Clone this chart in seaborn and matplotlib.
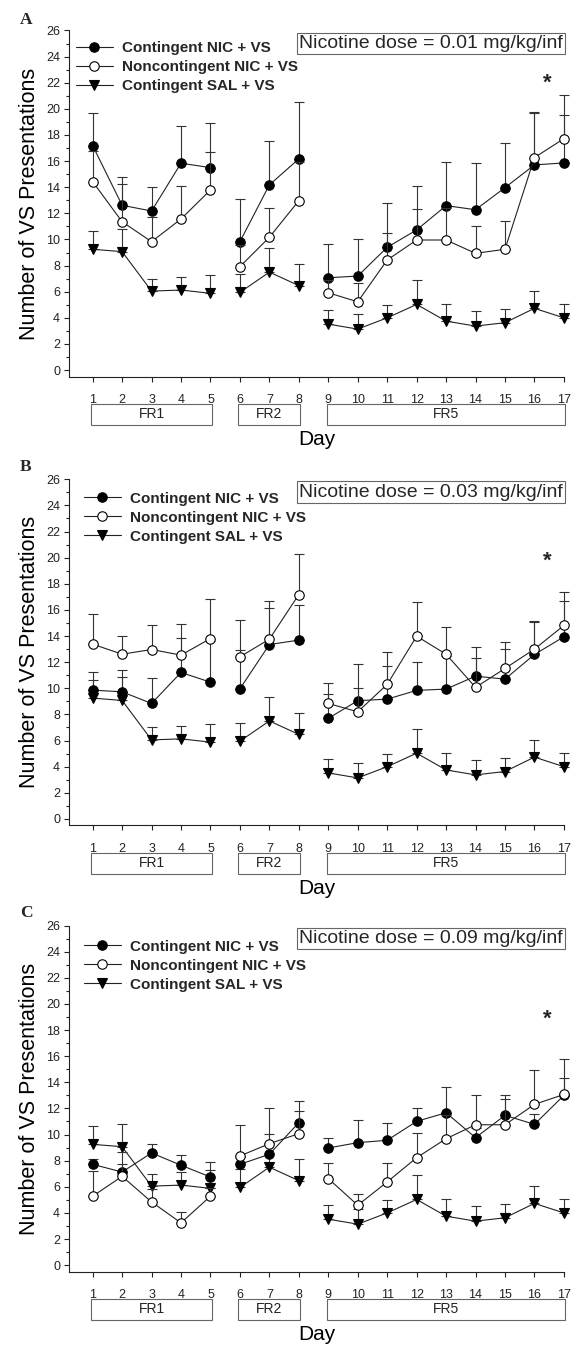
import matplotlib
matplotlib.use("Agg")
import matplotlib.pyplot as plt
import matplotlib.transforms as mtransforms
from matplotlib.lines import Line2D
from matplotlib.patches import Rectangle
import numpy as np
import pandas as pd
import seaborn as sns

# ---------------------------------------------------------------------------
# Data (means and top of the SEM bars)
# ---------------------------------------------------------------------------
days = list(range(1, 18))
phase_names = ["FR1", "FR2", "FR5"]
phase_first = [1, 6, 9]
phase_last = [5, 8, 17]
groups = ["Contingent NIC + VS", "Noncontingent NIC + VS", "Contingent SAL + VS"]
panel_letters = ["A", "B", "C"]
doses = ["0.01", "0.03", "0.09"]
star_day = 16.45
star_y = [22.0, 19.7, 18.8]

# saline control group is the same in all three panels
sal_mean = [9.25, 9.07, 6.05, 6.13, 5.88, 5.95, 7.5, 6.47, 3.52, 3.14, 4.0, 5.03, 3.75, 3.37, 3.63, 4.73, 4.0]
sal_upper = [10.67, 10.83, 7.0, 7.12, 7.26, 7.33, 9.32, 8.12, 4.6, 4.29, 4.96, 6.9, 5.03, 4.5, 4.7, 6.08, 5.03]

a_cont_mean = [17.19, 12.62, 12.18, 15.84, 15.5, 9.83, 14.18, 16.17, 7.07, 7.2, 9.4, 10.73, 12.59, 12.28, 13.97, 15.71, 15.86]
a_cont_upper = [19.7, 14.81, 14.0, 18.65, 18.9, 13.08, 17.57, 20.51, 9.66, 10.0, 12.77, 14.1, 15.96, 15.84, 17.42, 19.67, 19.54]
a_nonc_mean = [14.43, 11.36, 9.83, 11.57, 13.79, 7.92, 10.17, 12.97, 5.92, 5.23, 8.43, 9.96, 9.96, 8.94, 9.25, 16.27, 17.72]
a_nonc_upper = [16.8, 14.25, 11.7, 14.12, 16.7, 9.6, 12.39, 15.9, 6.9, 6.69, 10.47, 12.31, 12.4, 11.03, 11.42, 19.77, 21.05]

b_cont_mean = [9.86, 9.73, 8.84, 11.21, 10.47, 9.96, 13.35, 13.69, 7.7, 9.05, 9.17, 9.84, 9.94, 10.93, 10.7, 12.59, 13.94]
b_cont_upper = [11.26, 11.39, 10.8, 13.86, 13.6, 12.97, 16.18, 16.41, 9.56, 11.83, 11.7, 12.03, 12.5, 13.17, 13.0, 15.04, 16.69]
b_nonc_mean = [13.38, 12.61, 12.97, 12.54, 13.81, 12.41, 13.76, 17.18, 8.84, 8.2, 10.3, 13.99, 12.61, 10.07, 11.52, 13.0, 14.81]
b_nonc_upper = [15.72, 14.02, 14.83, 14.96, 16.82, 15.21, 16.69, 20.31, 10.37, 9.99, 12.79, 16.57, 14.66, 12.29, 13.51, 15.14, 17.38]

c_cont_mean = [7.72, 7.13, 8.59, 7.65, 6.75, 7.72, 8.49, 10.91, 8.97, 9.38, 9.56, 11.01, 11.67, 9.76, 11.47, 10.78, 13.0]
c_cont_upper = [8.1, 8.66, 9.3, 8.46, 7.9, 8.3, 12.0, 12.56, 9.73, 11.09, 10.91, 12.03, 13.63, 10.5, 13.0, 11.6, 14.32]
c_nonc_mean = [5.28, 6.8, 4.84, 3.24, 5.28, 8.36, 9.3, 10.07, 6.63, 4.59, 6.37, 8.23, 9.68, 10.75, 10.75, 12.31, 13.07]
c_nonc_upper = [7.19, 7.77, 5.8, 4.08, 5.9, 10.7, 10.01, 11.8, 7.82, 5.45, 7.85, 10.14, 11.5, 13.0, 12.74, 14.91, 15.75]

panel_series = [
    (a_cont_mean, a_cont_upper, a_nonc_mean, a_nonc_upper),
    (b_cont_mean, b_cont_upper, b_nonc_mean, b_nonc_upper),
    (c_cont_mean, c_cont_upper, c_nonc_mean, c_nonc_upper),
]


def phase_of(day):
    for name, lo, hi in zip(phase_names, phase_first, phase_last):
        if lo <= day <= hi:
            return name


def panel_frame(cont_m, cont_u, nonc_m, nonc_u):
    parts = []
    for g, m, u in zip(groups, [cont_m, nonc_m, sal_mean], [cont_u, nonc_u, sal_upper]):
        parts.append(pd.DataFrame({"day": days, "value": m, "upper": u, "group": g,
                                   "phase": [phase_of(d) for d in days]}))
    return pd.concat(parts, ignore_index=True)


# ---------------------------------------------------------------------------
# Styling
# ---------------------------------------------------------------------------
sns.set_theme(style="ticks")
plt.rcParams["font.family"] = ["Liberation Sans", "DejaVu Sans"]
plt.rcParams["axes.linewidth"] = 0.8

INK = "#222222"
styles = {
    groups[0]: dict(marker="o", mfc="black", ms=6.8),
    groups[1]: dict(marker="o", mfc="white", ms=6.8),
    groups[2]: dict(marker="v", mfc="black", ms=6.8),
}
draw_order = [groups[2], groups[0], groups[1]]

fig = plt.figure(figsize=(5.71, 13.49), dpi=100)
ax_left, ax_width, ax_height = 0.1210, 0.8676, 0.2566
bottoms = [0.7208, 0.3881, 0.0573]
legend_pos = [(0.014, 0.969), (0.030, 0.964), (0.030, 0.959)]
letter_y = [20, 466.7, 913]

for i, (series, bottom) in enumerate(zip(panel_series, bottoms)):
    ax = fig.add_axes([ax_left, bottom, ax_width, ax_height])
    df = panel_frame(*series)

    for k, g in enumerate(draw_order):
        sub = df[df["group"] == g]
        st = styles[g]
        eb = ax.errorbar(sub["day"], sub["value"],
                         yerr=[np.zeros(len(sub)), sub["upper"] - sub["value"]],
                         fmt="none", ecolor="#333333", elinewidth=0.8, capsize=3.6,
                         capthick=0.8, zorder=2 + 2 * k)
        for art in eb.lines[1] + eb.lines[2]:
            art.set_clip_on(False)
        sns.lineplot(data=sub, x="day", y="value", units="phase", estimator=None,
                     color=INK, lw=0.8, marker=st["marker"], ms=st["ms"],
                     mfc=st["mfc"], mec="black", mew=0.8, legend=False,
                     ax=ax, zorder=3 + 2 * k, clip_on=False)

    ax.set_xlim(0.2, 17.02)
    ax.set_ylim(-0.5, 26)
    ax.set_xticks(days)
    ax.set_yticks(range(0, 27, 2))
    ax.set_yticks(range(0, 27), minor=True)
    ax.tick_params(axis="both", direction="out", colors=INK, labelsize=9,
                   width=0.8, length=3.5)
    ax.tick_params(axis="y", which="minor", length=2, width=0.8, colors=INK)
    ax.tick_params(axis="y", pad=3)
    ax.tick_params(axis="x", pad=9)
    sns.despine(ax=ax)
    for side in ("left", "bottom"):
        ax.spines[side].set_color(INK)

    ax.set_xlabel("Day", fontsize=15, color="black")
    ax.xaxis.set_label_coords(0.5, -0.155)
    ax.set_ylabel("Number of VS Presentations", fontsize=15.5, color="black")
    ax.yaxis.set_label_coords(-0.058, 0.5)

    # schedule boxes under the day axis
    blend = mtransforms.blended_transform_factory(ax.transData, ax.transAxes)
    for name, lo, hi in zip(phase_names, phase_first, phase_last):
        ax.add_patch(Rectangle((lo - 0.05, -0.140), hi - lo + 0.1, 0.061,
                               transform=blend, fill=False, ec="#666666",
                               lw=0.8, clip_on=False))
        ax.text((lo + hi) / 2, -0.109, name, transform=blend, ha="center",
                va="center", fontsize=10, color=INK)

    handles = [Line2D([], [], color=INK, lw=0.8, marker=styles[g]["marker"],
                      ms=styles[g]["ms"], mfc=styles[g]["mfc"], mec="black",
                      mew=0.8) for g in groups]
    ax.legend(handles, groups, loc="upper left", bbox_to_anchor=legend_pos[i],
              frameon=False, prop=dict(weight="bold", size=11),
              handlelength=2.4, handletextpad=0.6, labelspacing=0.33,
              borderaxespad=0, borderpad=0)

    ax.text(0.731, 0.9625, f"Nicotine dose = {doses[i]} mg/kg/inf",
            transform=ax.transAxes, ha="center", va="center", fontsize=14,
            bbox=dict(boxstyle="square,pad=0.12", fc="white", ec="#666666", lw=0.8))
    ax.text(star_day, star_y[i], "*", ha="center", va="center", fontsize=16,
            fontweight="bold")

    fig.text(26 / 571, 1 - letter_y[i] / 1349, panel_letters[i], ha="center",
             va="center", fontsize=12.5, fontweight="bold",
             family=["Liberation Serif", "DejaVu Serif"])

fig.savefig("out.png", dpi=100)
